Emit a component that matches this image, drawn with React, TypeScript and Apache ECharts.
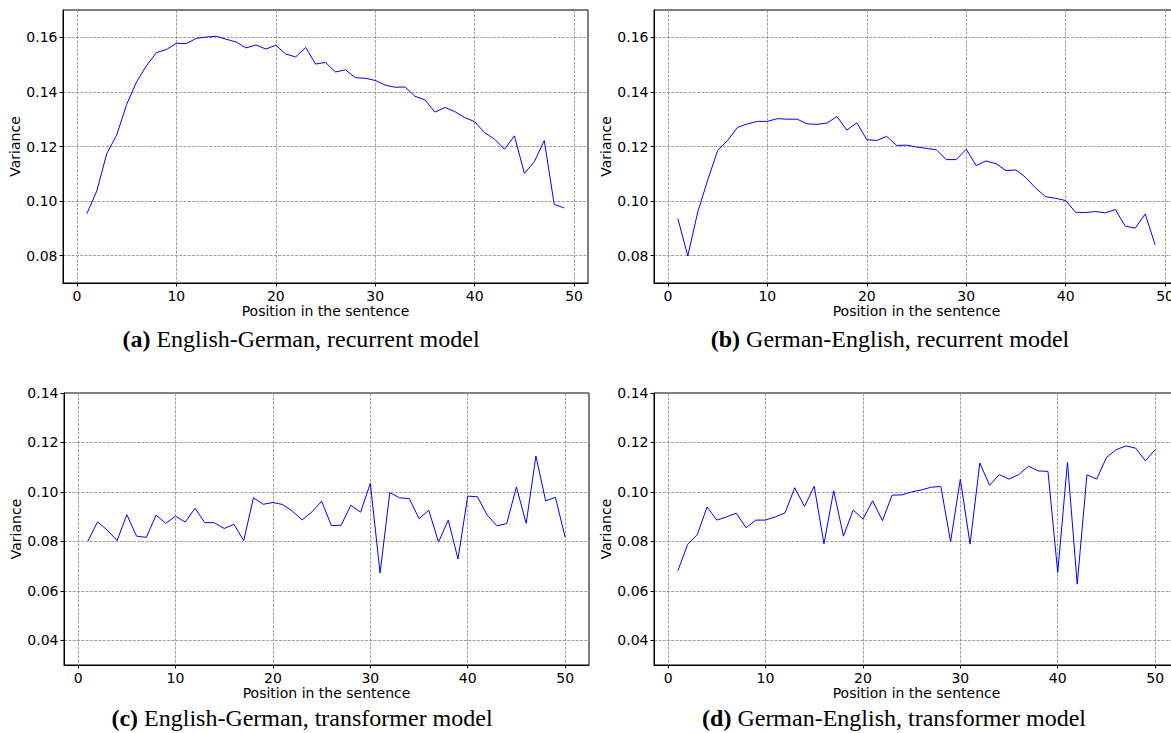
import React, { useEffect, useRef } from "react";
import * as echarts from "echarts";

// Tick labels
const xTicks = [0, 10, 20, 30, 40, 50];
const yTicksRecurrent = [0.08, 0.1, 0.12, 0.14, 0.16];
const yTicksTransformer = [0.04, 0.06, 0.08, 0.1, 0.12, 0.14];

// Variance per position (positions 1..N)
const enDeRecurrent = [
  0.0954, 0.1037, 0.1174, 0.1242, 0.1354, 0.1437, 0.1496, 0.1544, 0.1555, 0.1578,
  0.1577, 0.1596, 0.1601, 0.1604, 0.1593, 0.1583, 0.1561, 0.1572, 0.1557, 0.1571,
  0.1539, 0.1528, 0.1563, 0.1502, 0.1508, 0.1473, 0.1481, 0.1452, 0.145, 0.1442,
  0.1425, 0.1417, 0.1418, 0.1384, 0.1371, 0.1326, 0.1343, 0.1328, 0.1306, 0.1291,
  0.1251, 0.1227, 0.119, 0.1239, 0.1102, 0.1144, 0.1222, 0.0988, 0.0975,
];
const deEnRecurrent = [
  0.0936, 0.0799, 0.096, 0.1077, 0.1185, 0.1222, 0.127, 0.1283, 0.1292, 0.1292,
  0.1302, 0.13, 0.13, 0.1283, 0.1281, 0.1286, 0.131, 0.126, 0.1287, 0.1225,
  0.1222, 0.1237, 0.1204, 0.1205, 0.1198, 0.1193, 0.1188, 0.1152, 0.1152, 0.119,
  0.113, 0.1147, 0.1137, 0.1112, 0.1114, 0.1086, 0.1047, 0.1016, 0.101, 0.1002,
  0.0959, 0.0958, 0.0962, 0.0957, 0.0969, 0.0908, 0.0901, 0.0953, 0.084,
];
const enDeTransformer = [
  0.0801, 0.0879, 0.0845, 0.0803, 0.0908, 0.0821, 0.0816, 0.0906, 0.0873, 0.0902,
  0.0878, 0.0934, 0.0876, 0.0875, 0.0852, 0.0869, 0.0803, 0.0976, 0.095, 0.0957,
  0.0949, 0.0922, 0.0887, 0.0919, 0.0962, 0.0864, 0.0865, 0.0946, 0.0918, 0.1035,
  0.0672, 0.0997, 0.0976, 0.0973, 0.0892, 0.0926, 0.0797, 0.0886, 0.0729, 0.0983,
  0.098, 0.0906, 0.0863, 0.0872, 0.102, 0.0873, 0.1145, 0.0964, 0.0978, 0.0817,
];
const deEnTransformer = [
  0.0681, 0.0787, 0.0828, 0.0939, 0.0886, 0.0899, 0.0914, 0.0855, 0.0886, 0.0886,
  0.0899, 0.0915, 0.1017, 0.0941, 0.1023, 0.079, 0.1005, 0.0821, 0.0927, 0.089,
  0.0964, 0.0884, 0.0987, 0.0988, 0.1, 0.1008, 0.1019, 0.1022, 0.0799, 0.1052,
  0.0789, 0.1117, 0.1027, 0.107, 0.1052, 0.107, 0.1104, 0.1085, 0.1083, 0.0674,
  0.112, 0.0627, 0.1069, 0.1052, 0.1139, 0.1171, 0.1186, 0.1177, 0.1126, 0.1171,
];

const captionTags = ["(a)", "(b)", "(c)", "(d)"];
const captionTexts = [
  "English-German, recurrent model",
  "German-English, recurrent model",
  "English-German, transformer model",
  "German-English, transformer model",
];
const xTitle = "Position in the sentence";
const yTitle = "Variance";

const SANS = "DejaVu Sans";
const SERIF = "Liberation Serif";

export default function App() {
  const ref = useRef<HTMLDivElement>(null);

  useEffect(() => {
    if (!ref.current) return;
    const chart = echarts.init(ref.current, undefined, { renderer: "svg" });

    const panels = [
      { left: 63, top: 10, height: 273, xMin: -1.4, xMax: 51.4, yMin: 0.07, yMax: 0.17, yTicks: yTicksRecurrent, values: enDeRecurrent, capX: 301, capY: 339 },
      { left: 654, top: 10, height: 273, xMin: -1.4, xMax: 51.4, yMin: 0.07, yMax: 0.17, yTicks: yTicksRecurrent, values: deEnRecurrent, capX: 890, capY: 339 },
      { left: 64, top: 393, height: 272, xMin: -1.45, xMax: 52.45, yMin: 0.03, yMax: 0.14, yTicks: yTicksTransformer, values: enDeTransformer, capX: 302, capY: 718 },
      { left: 654, top: 393, height: 272, xMin: -1.45, xMax: 52.45, yMin: 0.03, yMax: 0.14, yTicks: yTicksTransformer, values: deEnTransformer, capX: 894, capY: 718 },
    ];

    const gridLine = { show: true, lineStyle: { color: "#888888", type: [3, 1.3] as any, width: 0.8 } };
    const axisText = { color: "#000", fontSize: 14, fontFamily: SANS };

    const option: any = {
      animation: false,
      backgroundColor: "#fff",
      grid: panels.map((p) => ({
        left: p.left,
        top: p.top,
        width: 525,
        height: p.height,
        show: true,
        borderColor: "#000",
        borderWidth: 1,
        backgroundColor: "transparent",
        containLabel: false,
        outerBoundsMode: "none",
      })),
      xAxis: panels.map((p, i) => ({
        gridIndex: i,
        type: "value",
        min: p.xMin,
        max: p.xMax,
        axisLine: { show: true, onZero: false, lineStyle: { color: "#000", width: 1 } },
        axisTick: { show: true, customValues: xTicks, length: 3.5, lineStyle: { color: "#000" } },
        axisLabel: { ...axisText, customValues: xTicks, margin: 6 },
        splitLine: gridLine,
        name: xTitle,
        nameLocation: "middle",
        nameGap: 21,
        nameTextStyle: axisText,
      })),
      yAxis: panels.map((p, i) => ({
        gridIndex: i,
        type: "value",
        min: p.yMin,
        max: p.yMax,
        axisLine: { show: true, onZero: false, lineStyle: { color: "#000", width: 1 } },
        axisTick: { show: true, customValues: p.yTicks, length: 3.5, lineStyle: { color: "#000" } },
        axisLabel: { ...axisText, customValues: p.yTicks, margin: 5.5, formatter: (v: number) => v.toFixed(2) },
        splitLine: gridLine,
        name: yTitle,
        nameLocation: "middle",
        nameGap: 40,
        nameRotate: 90,
        nameTextStyle: axisText,
      })),
      series: panels.map((p, i) => ({
        type: "line",
        xAxisIndex: i,
        yAxisIndex: i,
        symbol: "none",
        showSymbol: false,
        clip: true,
        lineStyle: { color: "#0000ff", width: 1 },
        data: p.values.map((v, k) => [k + 1, v]),
      })),
      graphic: panels.map((p, i) => ({
        type: "text",
        x: p.capX,
        y: p.capY,
        style: {
          text: `{b|${captionTags[i]}} ${captionTexts[i]}`,
          fontFamily: SERIF,
          fontSize: 24,
          fill: "#000",
          textAlign: "center",
          textVerticalAlign: "middle",
          rich: {
            b: { fontFamily: SERIF, fontSize: 24, fontWeight: "bold", fill: "#000" },
          },
        },
      })),
    };

    chart.setOption(option);
    return () => chart.dispose();
  }, []);

  return (
    <div style={{ position: "absolute", left: 0, top: 0, width: 1171, height: 733, overflow: "hidden" }}>
      <div ref={ref} style={{ width: 1200, height: 733 }} />
    </div>
  );
}
